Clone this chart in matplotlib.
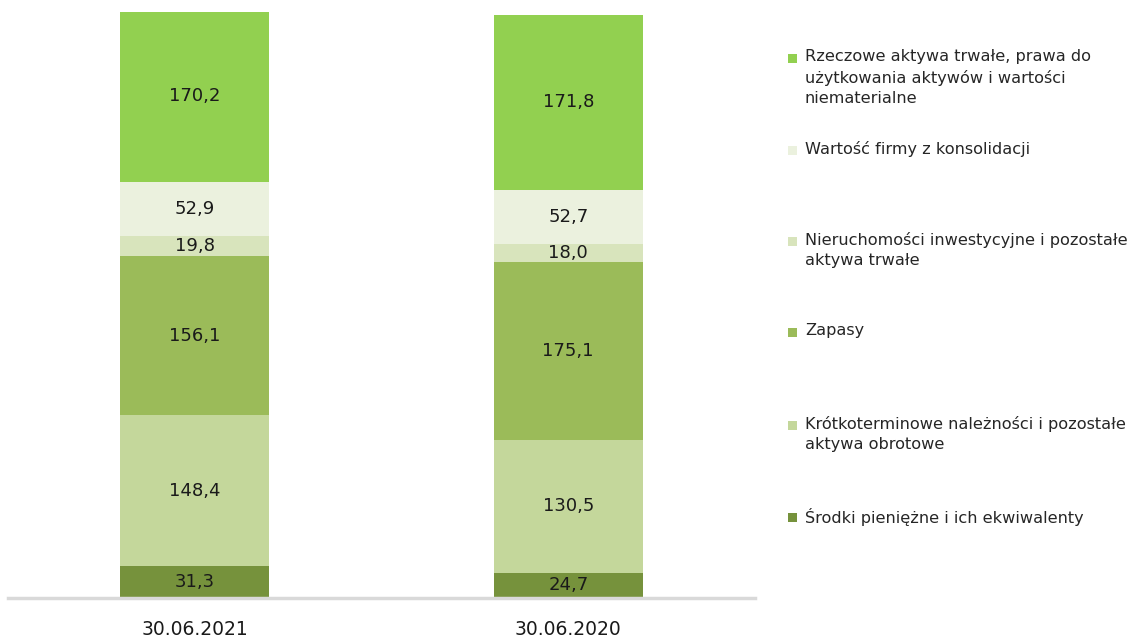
import matplotlib
matplotlib.use("Agg")
import matplotlib.pyplot as plt
from matplotlib.patches import Rectangle

categories = ["30.06.2021", "30.06.2020"]
series_names = [
    "Środki pieniężne i ich ekwiwalenty",
    "Krótkoterminowe należności i pozostałe\naktywa obrotowe",
    "Zapasy",
    "Nieruchomości inwestycyjne i pozostałe\naktywa trwałe",
    "Wartość firmy z konsolidacji",
    "Rzeczowe aktywa trwałe, prawa do\nużytkowania aktywów i wartości\nniematerialne",
]
srodki = [31.3, 24.7]
krotko = [148.4, 130.5]
zapasy = [156.1, 175.1]
nieruch = [19.8, 18.0]
wartosc = [52.9, 52.7]
rzeczowe = [170.2, 171.8]
series_values = [srodki, krotko, zapasy, nieruch, wartosc, rzeczowe]
colors = ["#76923c", "#c4d79b", "#9bbb59", "#d8e4bc", "#ebf1de", "#92d050"]

fig = plt.figure(figsize=(11.35, 6.37), dpi=100)
ax = fig.add_axes([8/1135, 1 - 598/637, 747/1135, (598 - 12)/637])

x = list(range(len(categories)))
bottoms = [0.0] * len(categories)
for vals, col in zip(series_values, colors):
    ax.bar(x, vals, bottom=bottoms, width=0.4, color=col, edgecolor="none", zorder=2)
    for xi, v, b in zip(x, vals, bottoms):
        ax.text(xi, b + v / 2, f"{v:.1f}".replace(".", ","), ha="center", va="center",
                fontsize=13, color="#1a1a1a", zorder=3)
    bottoms = [b + v for b, v in zip(bottoms, vals)]

ax.set_xlim(-0.5, 1.5)
ax.set_ylim(0, max(bottoms) * 0.995)
ax.set_yticks([])
ax.set_xticks(x)
ax.set_xticklabels(categories, fontsize=13.5, color="#1a1a1a")
ax.tick_params(axis="x", length=0, pad=16)
for s in ["top", "right", "left"]:
    ax.spines[s].set_visible(False)
ax.spines["bottom"].set_color("#d9d9d9")
ax.spines["bottom"].set_linewidth(2.5)

# legend (top to bottom = reversed stacking order)
legend_y = [58, 150, 241, 332, 425, 517]
for name, col, yy in zip(series_names[::-1], colors[::-1], legend_y):
    fig.patches.append(Rectangle((788/1135, 1 - (yy + 5)/637), 9/1135, 9/637,
                                 transform=fig.transFigure, facecolor=col, edgecolor="none"))
    fig.text(805/1135, 1 - (yy - 9)/637, name, ha="left", va="top", fontsize=11.6,
             color="#262626", linespacing=1.45)

fig.savefig("out.png", dpi=100)
